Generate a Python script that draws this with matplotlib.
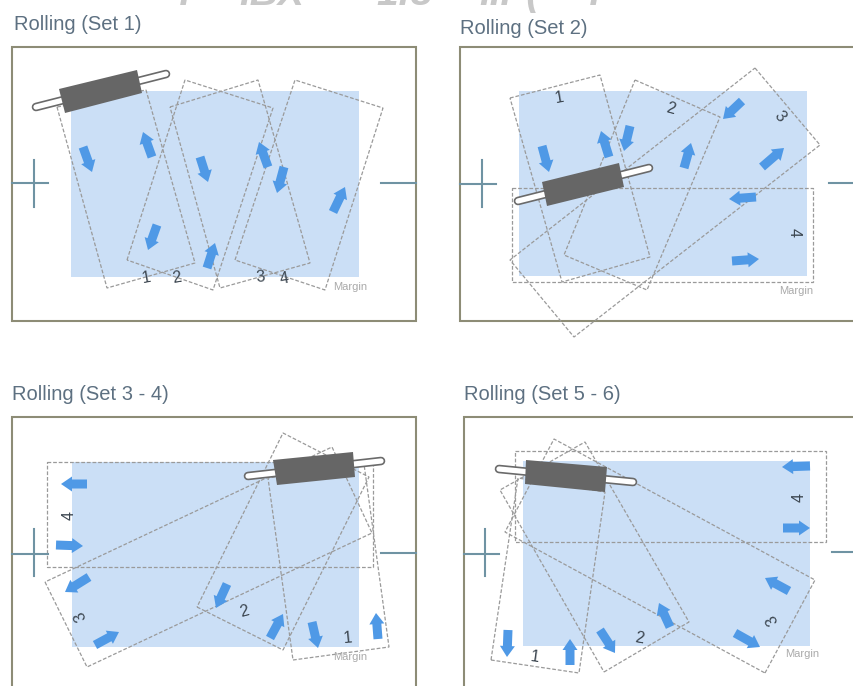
import matplotlib
matplotlib.use('Agg')
import matplotlib.pyplot as plt
from matplotlib.patches import Polygon, Rectangle, FancyArrow

plt.rcParams['font.family'] = ['Liberation Sans', 'DejaVu Sans']

W, H = 854, 686
TITLE_COLOR = '#5d7081'
FRAME_COLOR = '#8d8c76'
BLUE = '#cbdff6'
ARROW = '#4f99e6'
DASH = '#9a9a9a'
CROSS = '#6f93a3'
DARK = '#666666'

# everything below is in picture pixels
titles = ['Rolling (Set 1)', 'Rolling (Set 2)', 'Rolling (Set 3 - 4)', 'Rolling (Set 5 - 6)']
title_pos = [(14, 25), (460, 28), (12, 394), (464, 394)]
frames = [(12, 47, 416, 321), (460, 47, 870, 321), (12, 417, 416, 700), (464, 417, 870, 700)]
blues = [(71, 91, 359, 277), (519, 91, 807, 276), (72, 462, 359, 647), (523, 461, 810, 646)]
heading_bits = [(185, 'Y'), (272, 'IBX'), (405, '1:8'), (510, 'IIP('), (595, 'Y')]

sheets_1 = [[(57, 107), (107, 288), (195, 263), (146, 90)],
            [(127, 260), (185, 80), (273, 108), (213, 290)],
            [(170, 107), (258, 80), (310, 263), (220, 288)],
            [(235, 260), (295, 80), (383, 108), (325, 290)]]
sheets_2 = [[(510, 98), (600, 75), (650, 257), (562, 282)],
            [(635, 80), (720, 117), (647, 290), (564, 255)],
            [(755, 68), (820, 145), (574, 337), (510, 260)],
            [(512, 188), (813, 188), (813, 282), (512, 282)]]
sheets_3 = [[(293, 660), (389, 647), (364, 464), (268, 478)],
            [(197, 607), (283, 650), (369, 477), (283, 433)],
            [(45, 582), (87, 667), (372, 533), (332, 447)],
            [(47, 462), (373, 462), (373, 567), (47, 567)]]
sheets_4 = [[(491, 660), (579, 673), (605, 492), (518, 478)],
            [(604, 672), (689, 622), (585, 442), (500, 490)],
            [(765, 673), (815, 580), (554, 439), (505, 532)],
            [(515, 451), (826, 451), (826, 542), (515, 542)]]
sheets = [sheets_1, sheets_2, sheets_3, sheets_4]

arrows_1 = [(83, 147, 92, 172), (152, 157, 143, 132), (200, 157, 208, 182), (157, 225, 148, 250),
            (207, 268, 215, 243), (268, 167, 259, 142), (284, 167, 277, 193), (333, 212, 345, 187)]
arrows_2 = [(542, 146, 549, 172), (609, 157, 601, 131), (630, 126, 624, 151), (684, 168, 691, 143),
            (742, 101, 723, 119), (762, 167, 784, 148), (756, 197, 729, 199), (732, 261, 759, 259)]
arrows_3 = [(87, 484, 61, 484), (56, 545, 83, 546), (89, 577, 65, 592), (95, 645, 119, 632),
            (227, 584, 216, 608), (270, 638, 283, 614), (312, 622, 318, 648), (378, 639, 376, 613)]
arrows_4 = [(810, 466, 782, 467), (783, 528, 810, 528), (789, 591, 765, 578), (735, 633, 760, 647),
            (670, 627, 659, 603), (600, 630, 615, 653), (570, 665, 570, 639), (508, 630, 507, 657)]
arrows = [arrows_1, arrows_2, arrows_3, arrows_4]

bodies = [[(59, 89), (137, 70), (142, 93), (65, 113)],
          [(542, 182), (619, 163), (624, 187), (547, 206)],
          [(273, 460), (353, 452), (355, 477), (277, 485)],
          [(526, 460), (607, 467), (605, 492), (525, 484)]]
handles = [(36, 107, 166, 74), (518, 201, 649, 168), (248, 476, 381, 461), (499, 469, 633, 482)]

# x, y, text, rotation
labels_1 = [(146, 278, '1', 10), (177, 278, '2', 10), (260, 277, '3', 5), (284, 279, '4', 10)]
labels_2 = [(559, 98, '1', 10), (671, 109, '2', -15), (780, 117, '3', -50), (794, 233, '4', -90)]
labels_3 = [(69, 515, '4', 90), (80, 616, '3', 115), (244, 612, '2', 15), (348, 638, '1', 5)]
labels_4 = [(799, 497, '4', 90), (772, 619, '3', 120), (639, 638, '2', -10), (535, 657, '1', -8)]
labels = [labels_1, labels_2, labels_3, labels_4]
margins = [(350, 287), (796, 291), (350, 657), (802, 654)]

cross_h = [(12, 48, 183), (460, 496, 184), (12, 48, 554), (464, 499, 554)]
cross_v = [(34, 160, 207), (482, 160, 207), (34, 529, 576), (485, 529, 576)]
right_ticks = [(381, 416, 183), (829, 854, 183), (381, 416, 553), (832, 854, 552)]

fig = plt.figure(figsize=(W / 100, H / 100), dpi=100)
ax = fig.add_axes([0, 0, 1, 1])
ax.set_xlim(0, W)
ax.set_ylim(H, 0)
ax.axis('off')

# cut-off heading at the very top of the picture
for hx, t in heading_bits:
    ax.text(hx, 5, t, fontsize=28, fontweight='bold', style='italic', color='#c8c8c8',
            ha='center', va='baseline')

for i in range(4):
    x0, y0, x1, y1 = frames[i]
    ax.add_patch(Rectangle((x0, y0), x1 - x0, y1 - y0, fc='white', ec=FRAME_COLOR, lw=1.5, zorder=1))
    x0, y0, x1, y1 = blues[i]
    ax.add_patch(Rectangle((x0, y0), x1 - x0, y1 - y0, fc=BLUE, ec='none', zorder=2))

    for s in sheets[i]:
        ax.add_patch(Polygon(s, closed=True, fc='none', ec=DASH, lw=0.9, ls=(0, (3, 1.5)), zorder=3))

    for ax0, ay0, ax1, ay1 in arrows[i]:
        ax.add_patch(FancyArrow(ax0, ay0, ax1 - ax0, ay1 - ay0, width=9, head_width=15, head_length=11,
                                length_includes_head=True, fc=ARROW, ec='none', zorder=4))

    hx0, hy0, hx1, hy1 = handles[i]
    ax.plot([hx0, hx1], [hy0, hy1], color='#6a6a6a', lw=6.2, solid_capstyle='round', zorder=5)
    ax.plot([hx0, hx1], [hy0, hy1], color='white', lw=3.8, solid_capstyle='round', zorder=6)
    ax.add_patch(Polygon(bodies[i], closed=True, fc=DARK, ec='none', zorder=7))

    for tx, ty, t, rot in labels[i]:
        ax.text(tx, ty, t, fontsize=11.5, color='#3c4650', rotation=rot, ha='center', va='center', zorder=8)
    ax.text(margins[i][0], margins[i][1], 'Margin', fontsize=8, color='#aaaaaa', ha='center', va='center', zorder=8)

    ax.plot(cross_h[i][:2], [cross_h[i][2]] * 2, color=CROSS, lw=1.5, zorder=3)
    ax.plot([cross_v[i][0]] * 2, cross_v[i][1:], color=CROSS, lw=1.5, zorder=3)
    ax.plot(right_ticks[i][:2], [right_ticks[i][2]] * 2, color=CROSS, lw=1.5, zorder=3)

    ax.text(title_pos[i][0], title_pos[i][1], titles[i], fontsize=14.5, color=TITLE_COLOR, ha='left', va='center')

fig.savefig('out.png', dpi=100)
